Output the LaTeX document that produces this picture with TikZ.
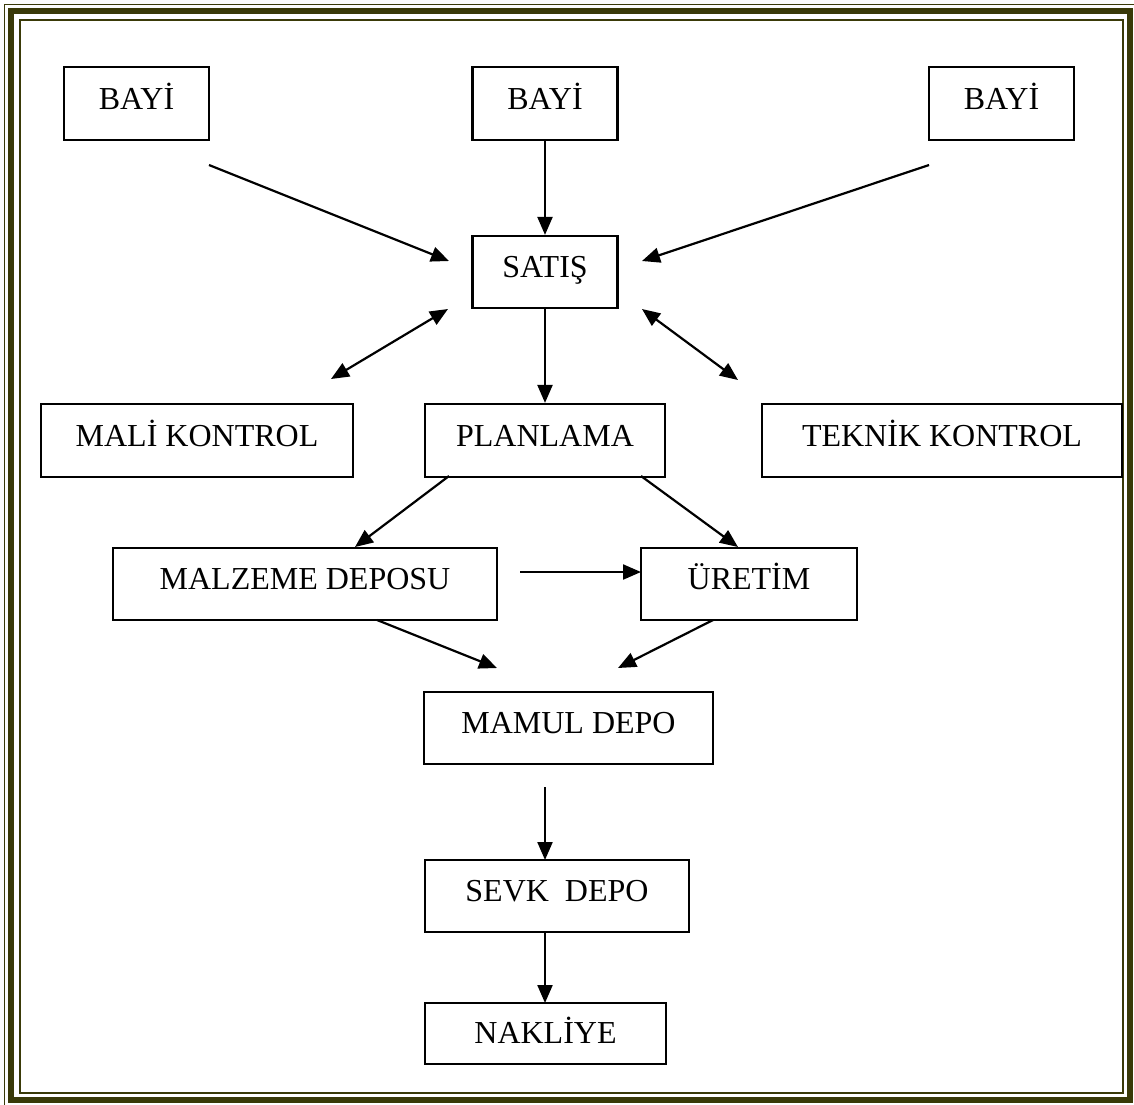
\documentclass[tikz,border=0pt]{standalone}
\usepackage{fontspec}
\setmainfont{Liberation Serif}
\usetikzlibrary{arrows.meta}
\definecolor{framecol}{RGB}{58,58,8}

\begin{document}
\begin{tikzpicture}[x=1pt,y=-1pt,
  box/.style={draw, line width=2.2pt, inner sep=0pt, text height=21.2pt, text depth=10pt,
              font=\fontsize{32}{38}\selectfont},
  link/.style={line width=2.2pt, -{Triangle[length=18pt,width=15pt]}},
  twoway/.style={line width=2.2pt, {Triangle[length=18pt,width=15pt]}-{Triangle[length=18pt,width=15pt]}}]

\useasboundingbox (0,0) rectangle (1134,1104);

% thin-thick-thin page frame
\draw[framecol, line width=1.4pt] (4.7,4.7) rectangle (1135.5,1105.5);
\draw[framecol, line width=5.5pt] (10.8,10.8) rectangle (1129.8,1100);
\draw[framecol, line width=2.6pt] (20,20) rectangle (1123,1093);

% boxes
\node[box, minimum width=145pt, minimum height=73pt] (bayi1) at (136.5,103.5) {BAYİ};
\node[box, minimum width=145pt, minimum height=73pt] (bayi2) at (545,103.5) {BAYİ};
\node[box, minimum width=145pt, minimum height=73pt] (bayi3) at (1001.5,103.5) {BAYİ};
\node[box, minimum width=145pt, minimum height=72pt] (satis) at (545,272) {SATIŞ};
\node[box, minimum width=312pt, minimum height=73pt] (mali) at (197,440.5) {MALİ KONTROL};
\node[box, minimum width=240pt, minimum height=73pt] (plan) at (545,440.5) {PLANLAMA};
\node[box, minimum width=360pt, minimum height=73pt] (teknik) at (942,440.5) {TEKNİK KONTROL};
\node[box, minimum width=384pt, minimum height=72pt] (malz) at (305,584) {MALZEME DEPOSU};
\node[box, minimum width=216pt, minimum height=72pt] (uretim) at (749,584) {ÜRETİM};
\node[box, minimum width=289pt, minimum height=72pt] (mamul) at (568.5,728) {MAMUL DEPO};
\node[box, minimum width=264pt, minimum height=72pt] (sevk) at (557,896) {SEVK~~DEPO};
\node[box, minimum width=241pt, minimum height=61pt, text depth=2pt] (nakl) at (545.5,1033.5) {NAKLİYE};

% free ends of the connectors
\coordinate (b1s) at (209,165);   \coordinate (b1t) at (449,261);
\coordinate (b3s) at (929,165);   \coordinate (b3t) at (642,261);
\coordinate (smA) at (448,309);   \coordinate (smB) at (331,379);
\coordinate (stA) at (642,309);   \coordinate (stB) at (738,380);
\coordinate (pmS) at (449,476);   \coordinate (pmT) at (355,547);
\coordinate (puS) at (641,476);   \coordinate (puT) at (738,547);
\coordinate (muS) at (520,572);   \coordinate (muT) at (641,572);
\coordinate (mmS) at (377,620);   \coordinate (mmT) at (497,668);
\coordinate (umS) at (713,620);   \coordinate (umT) at (618,668);
\coordinate (msS) at (545,787);   \coordinate (msT) at (545,860);
\coordinate (snS) at (545,932);   \coordinate (snT) at (545,1003);

% connectors
\draw[link] (b1s) -- (b1t);
\draw[link] (bayi2.south) -- (satis.north);
\draw[link] (b3s) -- (b3t);
\draw[twoway] (smA) -- (smB);
\draw[link] (satis.south) -- (plan.north);
\draw[twoway] (stA) -- (stB);
\draw[link] (pmS) -- (pmT);
\draw[link] (puS) -- (puT);
\draw[link] (muS) -- (muT);
\draw[link] (mmS) -- (mmT);
\draw[link] (umS) -- (umT);
\draw[link] (msS) -- (msT);
\draw[link] (snS) -- (snT);
\end{tikzpicture}
\end{document}
